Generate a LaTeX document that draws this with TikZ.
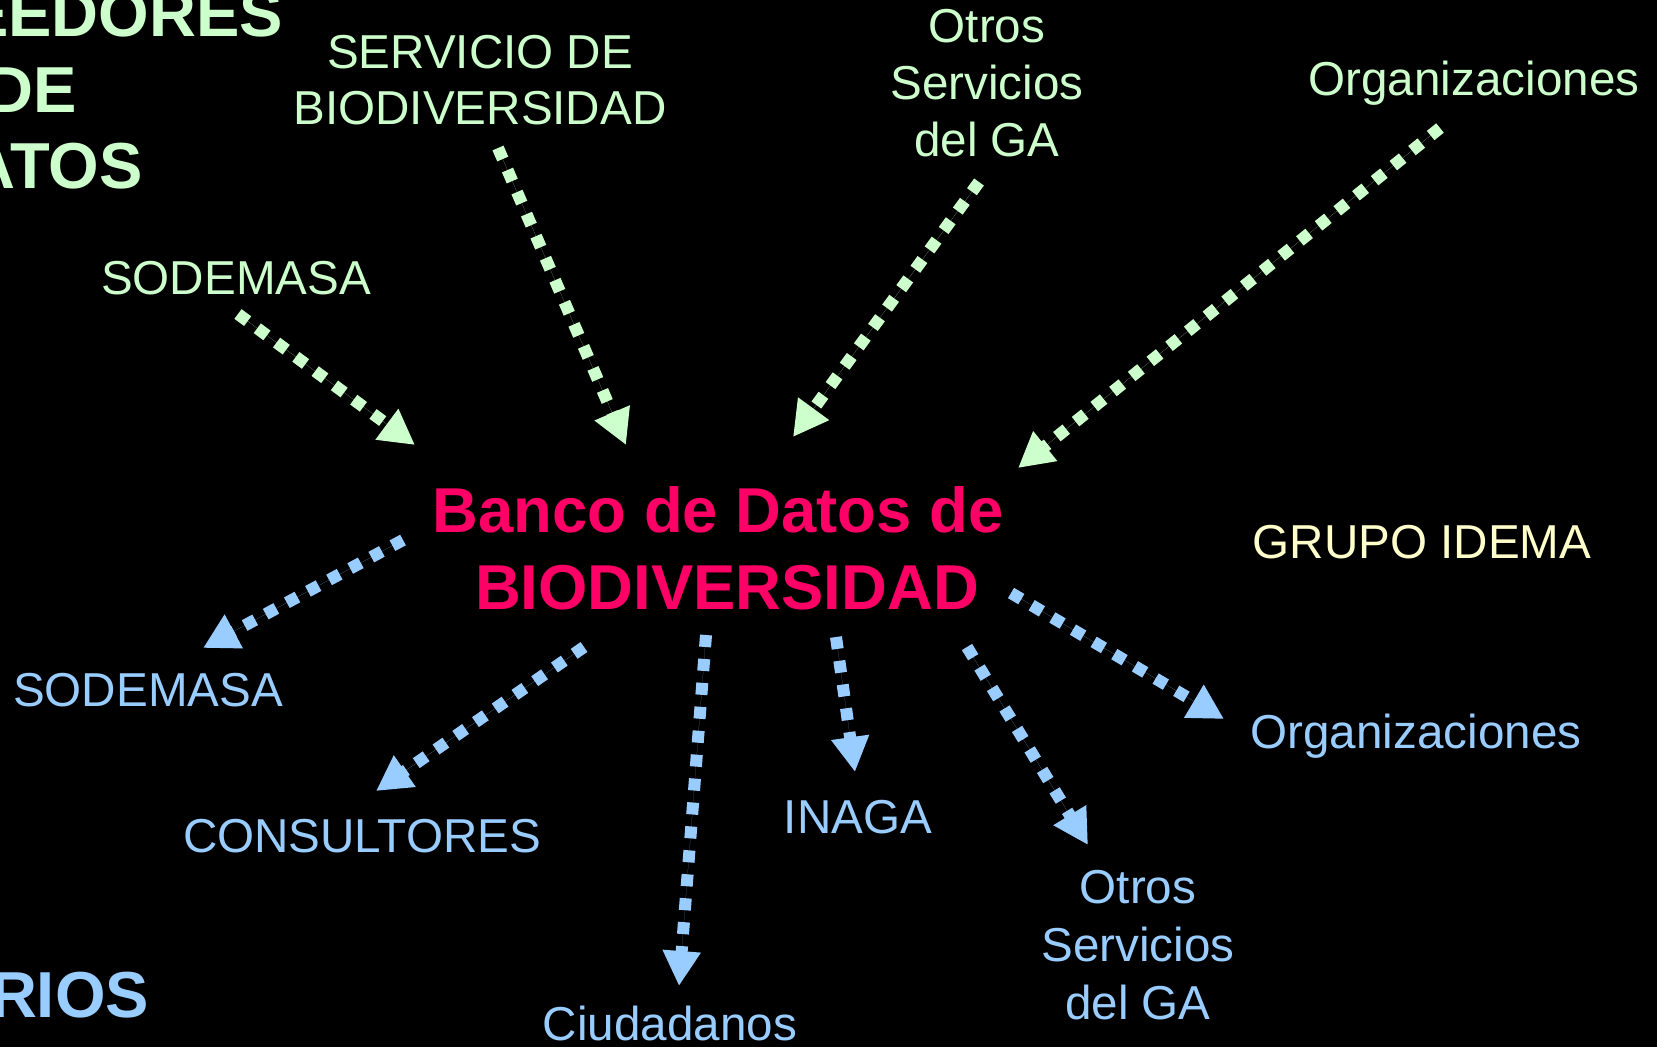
\documentclass[tikz,border=0pt]{standalone}
\usepackage{fontspec}
\setmainfont{Liberation Sans}
\usetikzlibrary{arrows.meta}
\definecolor{cgreen}{HTML}{CCFFCC}
\definecolor{cblue}{HTML}{99CCFF}
\definecolor{cmag}{HTML}{FF0066}
\definecolor{cyel}{HTML}{FFFFCC}
\tikzset{
  lbl/.style={inner sep=0pt, outer sep=0pt, anchor=base, align=center,
    font=\fontsize{47.6}{56}\selectfont},
  biglbl/.style={inner sep=0pt, outer sep=0pt, anchor=base, align=center,
    font=\fontsize{65}{76}\selectfont\bfseries},
  flow/.style={line width=12pt, dash pattern=on 12pt off 12pt,
    -{Triangle[length=35pt,width=36pt]}},
  gflow/.style={flow, draw=cgreen, fill=cgreen},
  bflow/.style={flow, draw=cblue, fill=cblue},
}
\begin{document}
\begin{tikzpicture}[x=1pt,y=-1pt]
\useasboundingbox (0,0) rectangle (1657,1047);
\fill[black] (0,0) rectangle (1657,1047);
\clip (0,0) rectangle (1657,1047);

% headings (cut off at the edge); base = baseline of last line
\node[biglbl, text=cgreen] (prov) at (32,188) {PROVEEDORES\\DE\\DATOS};
\node[biglbl, text=cblue, anchor=base east] (usu) at (149,1017) {USUARIOS};

% centre
\node[inner sep=0pt, anchor=base, align=center, text=cmag,
  font=\fontsize{63.4}{77}\selectfont\bfseries] (banco) at (727,609)
  {Banco de Datos de\hspace*{0.28em}\\BIODIVERSIDAD};

% providers (green)
\node[lbl, text=cgreen] (servicio) at (480,124) {SERVICIO DE\\BIODIVERSIDAD};
\node[lbl, text=cgreen, font=\fontsize{47.6}{57}\selectfont] (otrosg) at (987,156) {Otros\\Servicios\\del GA};
\node[lbl, text=cgreen] (orgg) at (1474,95) {Organizaciones};
\node[lbl, text=cgreen] (sodg) at (236,294) {SODEMASA};

\node[lbl, text=cyel] (grupo) at (1422,558) {GRUPO IDEMA};

% users (blue)
\node[lbl, text=cblue] (sodb) at (148,706) {SODEMASA};
\node[lbl, text=cblue] (cons) at (362,852) {CONSULTORES};
\node[lbl, text=cblue] (ciud) at (670,1040) {Ciudadanos};
\node[lbl, text=cblue] (inaga) at (858,833) {INAGA};
\node[lbl, text=cblue, font=\fontsize{47.6}{58}\selectfont] (otrosb) at (1138,1019) {Otros\\Servicios\\del GA};
\node[lbl, text=cblue] (orgb) at (1416,748) {Organizaciones};

% connector ends
\coordinate (s1) at (238,314);  \coordinate (t1) at (415,445);
\coordinate (s2) at (498,148);  \coordinate (t2) at (626,445);
\coordinate (s3) at (979,182);  \coordinate (t3) at (793,437);
\coordinate (s4) at (1440,128); \coordinate (t4) at (1018,468);
\coordinate (s5) at (403,540);  \coordinate (t5) at (203,648);
\coordinate (s6) at (584,647);  \coordinate (t6) at (376,791);
\coordinate (s7) at (706,635);  \coordinate (t7) at (679,986);
\coordinate (s8) at (836,637);  \coordinate (t8) at (855,772);
\coordinate (s9) at (967,647);  \coordinate (t9) at (1088,845);
\coordinate (s10) at (1011,593); \coordinate (t10) at (1224,719);

\draw[gflow] (s1) -- (t1);
\draw[gflow] (s2) -- (t2);
\draw[gflow] (s3) -- (t3);
\draw[gflow] (s4) -- (t4);
\draw[bflow] (s5) -- (t5);
\draw[bflow] (s6) -- (t6);
\draw[bflow] (s7) -- (t7);
\draw[bflow] (s8) -- (t8);
\draw[bflow] (s9) -- (t9);
\draw[bflow] (s10) -- (t10);
\end{tikzpicture}
\end{document}
